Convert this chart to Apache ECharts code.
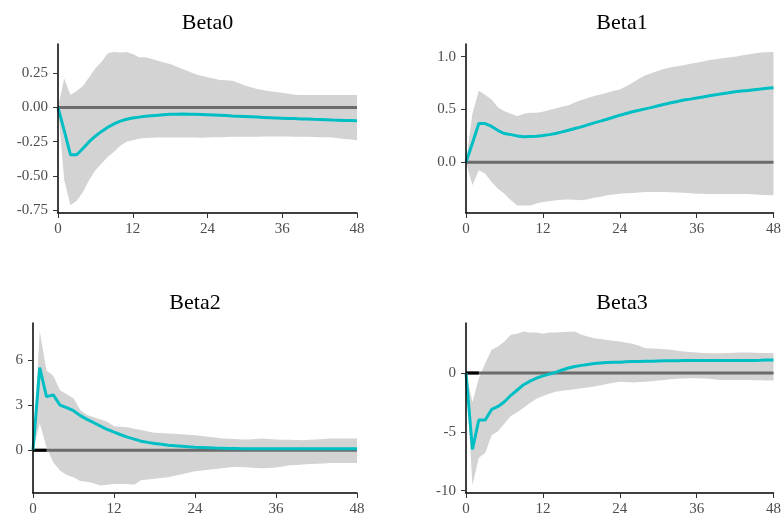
<!doctype html>
<html>
<head>
<meta charset="UTF-8">
<title>Beta IRF</title>
<script src="https://cdn.jsdelivr.net/npm/echarts@6/dist/echarts.min.js"></script>
<style>
  html, body { margin: 0; padding: 0; background: #fff; }
  #main { width: 784px; height: 518px; }
</style>
</head>
<body>
<div id="main"></div>
<script>
// horizon 0..48
var names = ['Beta0', 'Beta1', 'Beta2', 'Beta3'];
var xTicks = [0, 12, 24, 36, 48];

// Beta0
var beta0Line = [0, -0.17, -0.345, -0.345, -0.30, -0.25, -0.21, -0.175, -0.145, -0.12, -0.10, -0.087, -0.078, -0.071, -0.065, -0.061, -0.058, -0.054, -0.051, -0.05, -0.049, -0.05, -0.051, -0.052, -0.054, -0.056, -0.058, -0.06, -0.063, -0.065, -0.067, -0.069, -0.071, -0.073, -0.075, -0.077, -0.079, -0.081, -0.082, -0.084, -0.085, -0.087, -0.088, -0.09, -0.092, -0.093, -0.095, -0.096, -0.097];
var beta0Upper = [0, 0.21, 0.09, 0.12, 0.155, 0.22, 0.285, 0.333, 0.394, 0.404, 0.40, 0.404, 0.39, 0.365, 0.365, 0.355, 0.34, 0.328, 0.316, 0.298, 0.28, 0.262, 0.243, 0.23, 0.22, 0.21, 0.20, 0.198, 0.195, 0.178, 0.16, 0.147, 0.134, 0.125, 0.117, 0.112, 0.107, 0.1, 0.092, 0.091, 0.09, 0.09, 0.09, 0.09, 0.09, 0.09, 0.09, 0.09, 0.09];
var beta0Lower = [0, -0.53, -0.713, -0.68, -0.616, -0.53, -0.458, -0.41, -0.36, -0.324, -0.28, -0.25, -0.239, -0.228, -0.224, -0.222, -0.22, -0.22, -0.22, -0.22, -0.22, -0.22, -0.22, -0.222, -0.22, -0.218, -0.218, -0.216, -0.215, -0.215, -0.214, -0.214, -0.214, -0.213, -0.212, -0.212, -0.212, -0.213, -0.214, -0.215, -0.215, -0.216, -0.217, -0.218, -0.22, -0.225, -0.23, -0.235, -0.24];

// Beta1
var beta1Line = [0, 0.18, 0.367, 0.367, 0.34, 0.30, 0.272, 0.262, 0.25, 0.242, 0.245, 0.247, 0.253, 0.262, 0.272, 0.288, 0.304, 0.32, 0.335, 0.354, 0.373, 0.39, 0.408, 0.427, 0.446, 0.462, 0.478, 0.492, 0.506, 0.52, 0.535, 0.549, 0.563, 0.576, 0.589, 0.598, 0.608, 0.619, 0.63, 0.64, 0.649, 0.658, 0.668, 0.674, 0.68, 0.687, 0.693, 0.7, 0.706];
var beta1Upper = [0, 0.46, 0.677, 0.636, 0.595, 0.52, 0.484, 0.46, 0.437, 0.46, 0.468, 0.468, 0.478, 0.494, 0.51, 0.525, 0.54, 0.565, 0.589, 0.608, 0.627, 0.642, 0.658, 0.674, 0.69, 0.72, 0.753, 0.79, 0.823, 0.845, 0.867, 0.885, 0.90, 0.91, 0.92, 0.932, 0.943, 0.955, 0.968, 0.976, 0.984, 0.992, 1.0, 1.01, 1.02, 1.03, 1.04, 1.042, 1.044];
var beta1Lower = [0, -0.218, -0.076, -0.108, -0.187, -0.25, -0.297, -0.36, -0.408, -0.408, -0.408, -0.39, -0.377, -0.368, -0.36, -0.355, -0.352, -0.355, -0.36, -0.35, -0.335, -0.325, -0.313, -0.305, -0.297, -0.293, -0.29, -0.285, -0.28, -0.28, -0.28, -0.282, -0.284, -0.286, -0.288, -0.292, -0.297, -0.298, -0.299, -0.3, -0.3, -0.3, -0.3, -0.3, -0.3, -0.305, -0.308, -0.31, -0.313];

// Beta2
var beta2Line = [0, 5.5, 3.57, 3.68, 3.0, 2.83, 2.63, 2.3, 2.05, 1.83, 1.6, 1.38, 1.2, 1.03, 0.87, 0.74, 0.6, 0.52, 0.45, 0.39, 0.33, 0.3, 0.27, 0.23, 0.2, 0.18, 0.16, 0.14, 0.13, 0.12, 0.11, 0.1, 0.1, 0.1, 0.1, 0.09, 0.09, 0.09, 0.09, 0.09, 0.09, 0.09, 0.09, 0.09, 0.09, 0.09, 0.09, 0.09, 0.09];
var beta2Upper = [0, 7.9, 5.3, 4.95, 4.0, 3.72, 3.46, 2.68, 2.34, 2.19, 2.05, 1.9, 1.6, 1.56, 1.52, 1.43, 1.34, 1.25, 1.16, 1.14, 1.12, 1.1, 1.07, 1.03, 1.0, 0.95, 0.9, 0.84, 0.78, 0.76, 0.74, 0.72, 0.71, 0.75, 0.78, 0.75, 0.71, 0.7, 0.69, 0.68, 0.67, 0.7, 0.72, 0.75, 0.78, 0.78, 0.78, 0.78, 0.78];
var beta2Lower = [0, 1.8, 0.2, -0.8, -1.35, -1.65, -1.8, -2.05, -2.1, -2.2, -2.35, -2.3, -2.25, -2.25, -2.25, -2.3, -2.0, -1.95, -1.9, -1.85, -1.8, -1.7, -1.6, -1.5, -1.4, -1.35, -1.3, -1.25, -1.2, -1.15, -1.1, -1.12, -1.15, -1.18, -1.2, -1.18, -1.15, -1.08, -1.0, -0.98, -0.95, -0.92, -0.9, -0.88, -0.85, -0.85, -0.85, -0.85, -0.85];

// Beta3
var beta3Line = [0, -6.5, -4.0, -4.0, -3.1, -2.85, -2.45, -1.9, -1.45, -1.0, -0.7, -0.45, -0.25, -0.1, 0.05, 0.25, 0.42, 0.55, 0.64, 0.72, 0.8, 0.84, 0.88, 0.9, 0.91, 0.94, 0.97, 0.98, 0.99, 1.0, 1.02, 1.03, 1.04, 1.04, 1.05, 1.05, 1.05, 1.05, 1.05, 1.05, 1.05, 1.05, 1.05, 1.05, 1.05, 1.06, 1.07, 1.09, 1.1];
var beta3Upper = [0, -2.5, -0.45, 0.83, 1.96, 2.24, 2.67, 3.24, 3.32, 3.52, 3.44, 3.44, 3.32, 3.44, 3.44, 3.48, 3.5, 3.52, 3.24, 3.1, 2.95, 2.88, 2.8, 2.74, 2.67, 2.57, 2.47, 2.3, 2.1, 2.08, 2.05, 2.0, 1.96, 1.88, 1.82, 1.78, 1.73, 1.7, 1.68, 1.68, 1.68, 1.7, 1.72, 1.73, 1.73, 1.72, 1.7, 1.69, 1.68];
var beta3Lower = [0, -9.55, -7.2, -6.8, -5.3, -4.95, -4.3, -3.65, -3.35, -2.95, -2.55, -2.2, -1.96, -1.78, -1.6, -1.52, -1.45, -1.38, -1.3, -1.23, -1.16, -1.05, -0.94, -0.84, -0.74, -0.78, -0.82, -0.78, -0.74, -0.7, -0.65, -0.6, -0.54, -0.5, -0.48, -0.46, -0.45, -0.48, -0.5, -0.55, -0.6, -0.6, -0.6, -0.6, -0.6, -0.62, -0.63, -0.64, -0.65];

// y tick labels per panel
var yTicks0 = [-0.75, -0.5, -0.25, 0, 0.25];
var yTicks1 = [0, 0.5, 1.0];
var yTicks2 = [0, 3, 6];
var yTicks3 = [-10, -5, 0];

var lines = [beta0Line, beta1Line, beta2Line, beta3Line];
var uppers = [beta0Upper, beta1Upper, beta2Upper, beta3Upper];
var lowers = [beta0Lower, beta1Lower, beta2Lower, beta3Lower];
var yTicks = [yTicks0, yTicks1, yTicks2, yTicks3];
var yDigits = [2, 1, 0, 0];
var yRange = [[-0.77, 0.462], [-0.48, 1.12], [-2.85, 8.47], [-10.2, 4.24]];
// panels with the short black stub on the zero line
var blackBit = [false, false, true, true];

var grids = [
  {left: 58, right: 427, top: 44, bottom: 305},
  {left: 466, right: 6, top: 44, bottom: 305},
  {left: 33, right: 427, top: 323, bottom: 25},
  {left: 466, right: 6, top: 323, bottom: 25}
];
var titlePos = [[207.5, 12], [622, 12], [195, 292], [622, 292]];

var labelFont = {color: '#4d4d4d', fontFamily: 'Liberation Serif', fontSize: 15};

// confidence band as one polygon: upper edge forward, lower edge back
function bandRenderer(up, lo) {
  return function (params, api) {
    if (params.dataIndex !== 0) return;
    var pts = [];
    for (var k = 0; k < up.length; k++) pts.push(api.coord([k, up[k]]));
    for (var k2 = lo.length - 1; k2 >= 0; k2--) pts.push(api.coord([k2, lo[k2]]));
    return {type: 'polygon', shape: {points: pts}, style: {fill: '#d3d3d3'}, silent: true};
  };
}

var chart = echarts.init(document.getElementById('main'));
var option = {
  backgroundColor: '#fff',
  animation: false,
  title: [],
  grid: grids,
  xAxis: [],
  yAxis: [],
  series: []
};

for (var i = 0; i < 4; i++) {
  option.title.push({
    text: names[i], left: titlePos[i][0], top: titlePos[i][1], textAlign: 'center', padding: 0,
    textStyle: {fontFamily: 'Liberation Serif', fontSize: 22, fontWeight: 'normal', color: '#000'}
  });
  option.xAxis.push({
    type: 'value', gridIndex: i, min: 0, max: 48, interval: 12, z: 5,
    axisLine: {show: true, onZero: false, lineStyle: {color: '#000', width: 1.5}},
    axisTick: {show: true, length: 5, lineStyle: {color: '#333', width: 1}},
    axisLabel: Object.assign({margin: 9, showMinLabel: true, showMaxLabel: true}, labelFont),
    splitLine: {show: false}
  });
  (function (d) {
    option.yAxis.push({
      type: 'value', gridIndex: i, min: yRange[i][0], max: yRange[i][1], z: 5,
      axisLine: {show: true, onZero: false, lineStyle: {color: '#000', width: 1.5}},
      axisTick: {show: true, length: 5, customValues: yTicks[i], lineStyle: {color: '#333', width: 1}},
      axisLabel: Object.assign({margin: 10, customValues: yTicks[i], formatter: function (v) { return v.toFixed(d); }}, labelFont),
      splitLine: {show: false}
    });
  })(yDigits[i]);

  var bandRows = [], lineData = [];
  for (var t = 0; t < lines[i].length; t++) {
    bandRows.push([t, lowers[i][t], uppers[i][t]]);
    lineData.push([t, lines[i][t]]);
  }
  option.series.push({
    type: 'custom', xAxisIndex: i, yAxisIndex: i, data: bandRows,
    encode: {x: 0, y: [1, 2]}, silent: true,
    renderItem: bandRenderer(uppers[i], lowers[i])
  });
  option.series.push({
    type: 'line', xAxisIndex: i, yAxisIndex: i, data: [[0, 0], [48, 0]],
    symbol: 'none', silent: true, lineStyle: {color: '#6b6b6b', width: 3}
  });
  if (blackBit[i]) {
    option.series.push({
      type: 'line', xAxisIndex: i, yAxisIndex: i, data: [[0, 0], [2, 0]],
      symbol: 'none', silent: true, lineStyle: {color: '#000', width: 3}
    });
  }
  option.series.push({
    type: 'line', xAxisIndex: i, yAxisIndex: i, data: lineData,
    symbol: 'none', silent: true, lineStyle: {color: '#00bfc4', width: 3}
  });
}

chart.setOption(option);
</script>
</body>
</html>
